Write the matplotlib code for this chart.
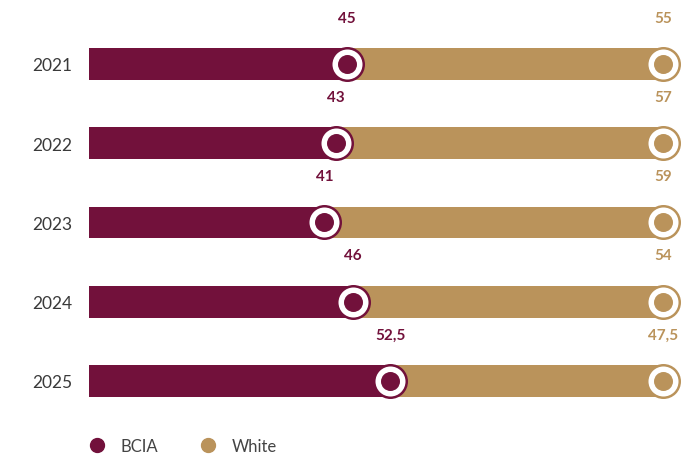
import numpy as np
import matplotlib.pyplot as plt
from matplotlib.lines import Line2D

years = ['2021', '2022', '2023', '2024', '2025']
bcia = [45, 43, 41, 46, 52.5]
white = [55, 57, 59, 54, 47.5]
bcia_labels = ['45', '43', '41', '46', '52,5']
white_labels = ['55', '57', '59', '54', '47,5']

maroon = '#72113B'
gold = '#BA935B'

fig = plt.figure(figsize=(6.92, 4.56), dpi=100)
ax = fig.add_axes([89/692, 0.0754, 574/692, 0.869])

y = np.arange(len(years))
bcia = np.array(bcia)
white = np.array(white)

ax.barh(y, bcia, height=0.4, color=maroon, zorder=1)
ax.barh(y, white, left=bcia, height=0.4, color=gold, zorder=1)

ends = [(bcia, maroon, bcia_labels), (bcia + white, gold, white_labels)]
for xs, col, labs in ends:
    ax.scatter(xs, y, s=635, color=col, zorder=3, clip_on=False, linewidths=0)
    ax.scatter(xs, y, s=467, color='white', zorder=4, clip_on=False, linewidths=0)
    ax.scatter(xs, y, s=187, color=col, zorder=5, clip_on=False, linewidths=0)
    for xi, yi, t in zip(xs, y, labs):
        ax.text(xi, yi - 0.585, t, ha='center', va='center', color=col,
                fontsize=11, fontweight='bold', family='Lato')

ax.set_xlim(0, 100)
ax.set_ylim(4.5, -0.5)
ax.set_yticks(y)
ax.set_yticklabels(years, fontsize=12.5, color='#3a3a3a', family='Lato')
ax.tick_params(axis='y', length=0, pad=12)
ax.set_xticks([])
for s in ax.spines.values():
    s.set_visible(False)

handles = [Line2D([], [], marker='o', ls='', color=maroon, markersize=10, label='BCIA'),
           Line2D([], [], marker='o', ls='', color=gold, markersize=10, label='White')]
leg = fig.legend(handles=handles, loc='center left', bbox_to_anchor=(69/692, 1 - 447/456),
                 ncol=2, frameon=False, handletextpad=0.4, columnspacing=2.0,
                 borderpad=0.2, prop={'family': 'Lato', 'size': 12})
for t in leg.get_texts():
    t.set_color('#444444')

fig.savefig('out.png', dpi=100)
